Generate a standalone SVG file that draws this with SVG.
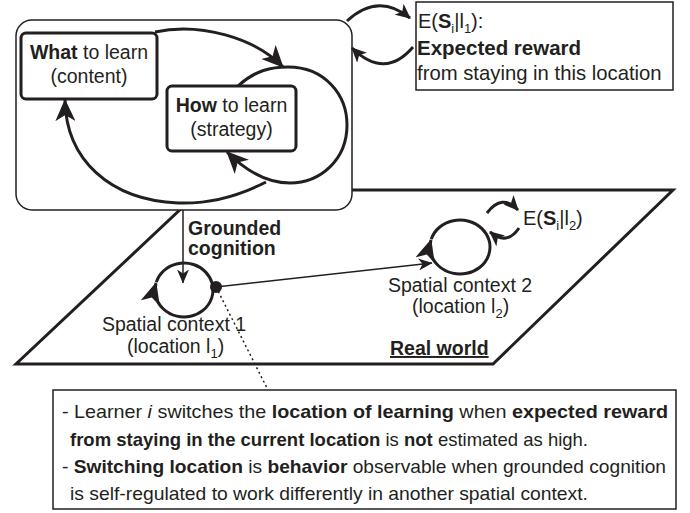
<svg xmlns="http://www.w3.org/2000/svg" width="690" height="513" viewBox="0 0 690 513">
<style>
text{font-family:"Liberation Sans",Arial,sans-serif;font-size:19.5px;fill:#231f20}
.b{font-weight:bold}
.sub{font-size:13px}
.note{font-size:19px}
.thick{fill:none;stroke:#231f20;stroke-width:3}
.thin{fill:none;stroke:#231f20;stroke-width:1.5}
.box{fill:#fff;stroke:#231f20;stroke-width:3}
.tbox{fill:#fff;stroke:#231f20;stroke-width:1.5}
</style>
<defs>
<marker id="big" markerUnits="userSpaceOnUse" markerWidth="22" markerHeight="20" viewBox="0 0 22 20" refX="21" refY="10" orient="auto">
<path d="M0,0 L22,10 L0,20 L6,10 z" fill="#231f20"/>
</marker>
<marker id="med" markerUnits="userSpaceOnUse" markerWidth="15" markerHeight="14" viewBox="0 0 15 14" refX="14" refY="7" orient="auto">
<path d="M0,0 L15,7 L0,14 L4,7 z" fill="#231f20"/>
</marker>
<marker id="sm" markerUnits="userSpaceOnUse" markerWidth="14" markerHeight="12" viewBox="0 0 14 12" refX="13.5" refY="6" orient="auto">
<path d="M0,0 L14,6 L0,12 L4,6 z" fill="#231f20"/>
</marker>
</defs>

<g id="real-world">
<polygon points="201,190 673,190 493,364 16,364" fill="none" stroke="#231f20" stroke-width="3"/>
<text x="390" y="355" class="b" text-decoration="underline">Real world</text>
</g>

<g id="mind">
<rect x="16" y="20" width="336" height="190" rx="16" class="tbox"/>
</g>

<g id="connectors">
<path class="thick" d="M155,32 C200,22 255,38 283,67" marker-end="url(#big)"/>
<path class="thick" d="M266,182 C235,198 205,204 178,203 C110,200 66,160 65,100" marker-end="url(#big)"/>
<path class="thick" d="M238,86 C255,70 272,67 288,67 C325,67 347,95 347,125 C347,160 320,183 290,183 C265,183 245,170 227,152" marker-end="url(#big)"/>
<path class="thick" d="M347,21 Q378,-8 410,18" marker-end="url(#med)"/>
<path class="thick" d="M413,47 Q385,80 352,48" marker-end="url(#med)"/>
<path class="thin" d="M183,210 L183,283" marker-end="url(#sm)"/>
<path class="thick" d="M156.27,282.11 A29,27 0 0 1 205.21,271.59 A29,27 0 0 1 190.52,316.31 A29,27 0 0 1 155.99,283.01" marker-end="url(#big)"/>
<path class="thin" d="M216,287 L432,263" marker-end="url(#sm)"/>
<path class="thick" d="M431.31,239.11 A30,27 0 0 1 481.94,228.59 A30,27 0 0 1 466.75,273.31 A30,27 0 0 1 431.02,240.01" marker-end="url(#big)"/>
<path class="thick" d="M487,213 Q502,193 518,210" marker-end="url(#med)"/>
<path class="thick" d="M519,228 Q507,246 490,232" marker-end="url(#med)"/>
<path d="M216,287 L268,390" fill="none" stroke="#231f20" stroke-width="1.5" stroke-dasharray="2,3"/>
<circle cx="216" cy="287" r="6" fill="#231f20"/>
</g>

<g id="what">
<rect x="21" y="33" width="136" height="66" rx="5" class="box"/>
<text x="89" y="59" text-anchor="middle"><tspan class="b">What</tspan> to learn</text>
<text x="89" y="83" text-anchor="middle">(content)</text>
</g>

<g id="how">
<rect x="167" y="86" width="129" height="65" rx="5" class="box"/>
<text x="231.5" y="112" text-anchor="middle"><tspan class="b">How</tspan> to learn</text>
<text x="231.5" y="136" text-anchor="middle">(strategy)</text>
</g>

<g id="expected-reward">
<rect x="416" y="2" width="257" height="88" class="tbox"/>
<text x="418" y="28" style="font-size:20px">E(<tspan class="b">S</tspan><tspan class="sub" dy="5">i</tspan><tspan dy="-5">|l</tspan><tspan class="sub" dy="5">1</tspan><tspan dy="-5">):</tspan></text>
<text x="417" y="55" class="b" style="font-size:20.5px">Expected reward</text>
<text x="417" y="80" style="font-size:20.3px">from staying in this location</text>
</g>

<g id="grounded-label">
<text x="188" y="235" class="b">Grounded</text>
<text x="188" y="255" class="b">cognition</text>
</g>

<g id="context1">
<text x="174" y="331" text-anchor="middle">Spatial context 1</text>
<text x="127" y="353">(location l<tspan class="sub" dy="5">1</tspan><tspan dy="-5">)</tspan></text>
</g>

<g id="context2">
<text x="460" y="292" text-anchor="middle">Spatial context 2</text>
<text x="412" y="313">(location l<tspan class="sub" dy="5">2</tspan><tspan dy="-5">)</tspan></text>
<text x="523" y="225" style="font-size:20px">E(<tspan class="b">S</tspan><tspan class="sub" dy="5">i</tspan><tspan dy="-5">|l</tspan><tspan class="sub" dy="5">2</tspan><tspan dy="-5">)</tspan></text>
</g>

<g id="note">
<rect x="53" y="390" width="623" height="119" class="tbox"/>
<text class="note" x="62" y="418" textLength="606" lengthAdjust="spacingAndGlyphs">- Learner <tspan font-style="italic">i</tspan> switches the <tspan class="b">location of learning</tspan> when <tspan class="b">expected reward</tspan></text>
<text class="note" x="70" y="446" textLength="518" lengthAdjust="spacingAndGlyphs"><tspan class="b">from staying in the current location</tspan> is <tspan class="b">not</tspan> estimated as high.</text>
<text class="note" x="62" y="473" textLength="604" lengthAdjust="spacingAndGlyphs">- <tspan class="b">Switching location</tspan> is <tspan class="b">behavior</tspan> observable when grounded cognition</text>
<text class="note" x="70" y="500" textLength="518" lengthAdjust="spacingAndGlyphs">is self-regulated to work differently in another spatial context.</text>
</g>
</svg>
